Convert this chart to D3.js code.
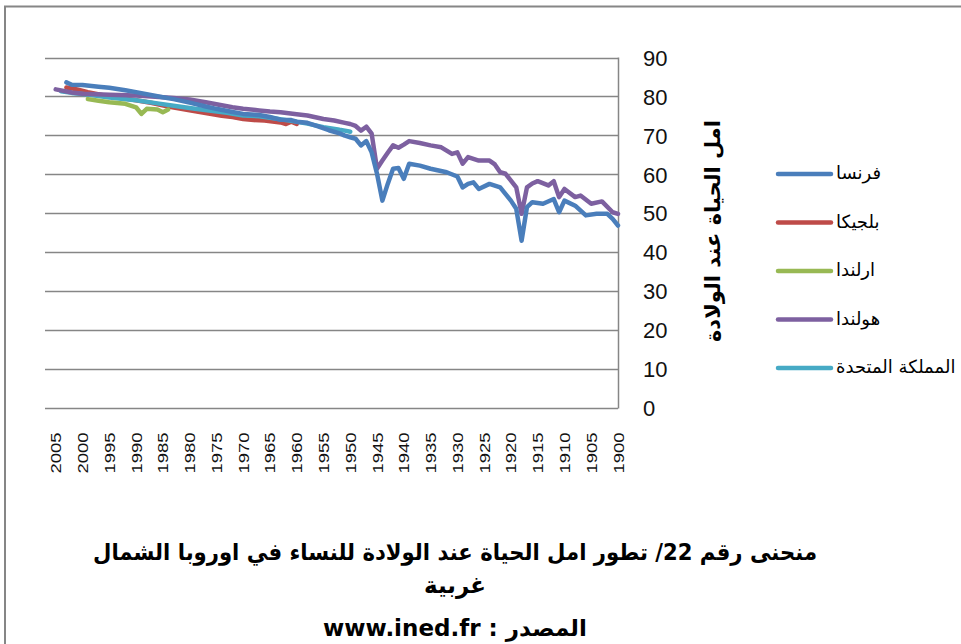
<!DOCTYPE html>
<html>
<head>
<meta charset="utf-8">
<script src="https://cdn.jsdelivr.net/npm/d3@7"></script>
<style>
  body { margin: 0; background: #fff; }
  .tick-y text { font-family: "Liberation Sans", Arial, sans-serif; font-size: 22px; fill: #111; }
  .tick-x text { font-family: "Liberation Sans", Arial, sans-serif; font-size: 14px; fill: #111; }
  .ar { font-family: "DejaVu Sans", sans-serif; direction: rtl; fill: #000; }
</style>
</head>
<body>
<div id="chart"></div>
<script>

//////////////////////////////////////////////////////////////
//////////////////////// The data ////////////////////////////
//////////////////////////////////////////////////////////////

//Country names, in legend order
var countries = ["فرنسا", "بلجيكا", "ارلندا", "هولندا", "المملكة المتحدة"];
var colors = ["#4A7EBB", "#BE4B48", "#98B954", "#7D60A0", "#46AAC5"];

//[year, female life expectancy at birth]
var france = [
	[2003, 83.6], [2002, 83.0], [2000, 82.9], [1997, 82.5], [1995, 82.2], [1992, 81.6],
	[1990, 81.1], [1987, 80.3], [1985, 79.8], [1983, 79.3], [1980, 78.4], [1977, 77.4],
	[1975, 76.8], [1972, 76.0], [1970, 75.5], [1967, 75.2], [1965, 74.7], [1963, 74.0],
	[1961, 73.9], [1960, 73.5], [1958, 73.2], [1956, 72.3], [1954, 71.3], [1952, 70.5],
	[1951, 69.9], [1950, 69.5], [1949, 69.1], [1948, 67.4], [1947, 68.5], [1946, 65.6],
	[1945, 60.1], [1944, 53.2], [1943, 57.5], [1942, 61.4], [1941, 61.6], [1940, 58.8],
	[1939, 62.7], [1937, 62.2], [1935, 61.4], [1932, 60.5], [1930, 59.4], [1929, 56.6],
	[1928, 57.5], [1927, 57.9], [1926, 56.2], [1924, 57.5], [1922, 56.6], [1920, 53.2],
	[1919, 51.1], [1918, 42.9], [1917, 51.5], [1916, 52.8], [1914, 52.4], [1912, 53.6],
	[1911, 50.2], [1910, 53.2], [1908, 51.9], [1906, 49.4], [1904, 49.8], [1902, 49.8],
	[1901, 48.5], [1900, 46.8]
];
var belgium = [
	[2003, 82.3], [2001, 81.8], [1999, 81.1], [1995, 80.0], [1990, 79.0], [1987, 78.3],
	[1984, 77.4], [1980, 76.4], [1977, 75.7], [1974, 75.0], [1972, 74.7], [1970, 74.2],
	[1968, 73.9], [1966, 73.8], [1963, 73.3], [1962, 72.9], [1961, 73.5], [1960, 72.9]
];
var ireland = [
	[1999, 79.3], [1997, 78.9], [1995, 78.5], [1992, 78.1], [1990, 77.2], [1989, 75.5],
	[1988, 76.8], [1986, 76.6], [1985, 75.9], [1984, 76.6]
];
var netherlands = [
	[2005, 81.8], [2002, 81.0], [2000, 80.7], [1995, 80.4], [1990, 80.2], [1985, 79.8],
	[1983, 79.6], [1980, 79.2], [1977, 78.5], [1974, 77.7], [1972, 77.2], [1970, 76.8],
	[1967, 76.4], [1965, 76.1], [1963, 75.9], [1960, 75.4], [1958, 75.1], [1955, 74.2],
	[1953, 73.8], [1951, 73.2], [1950, 72.9], [1949, 72.4], [1948, 71.2], [1947, 72.2],
	[1946, 70.4], [1945, 61.4], [1944, 63.5], [1943, 65.5], [1942, 67.4], [1941, 66.8],
	[1940, 67.6], [1939, 68.5], [1937, 68.0], [1935, 67.4], [1933, 66.9], [1931, 65.2],
	[1930, 65.6], [1929, 62.7], [1928, 64.4], [1926, 63.5], [1924, 63.5], [1923, 62.5],
	[1922, 60.5], [1921, 60.1], [1919, 56.6], [1918, 49.8], [1917, 56.6], [1916, 57.6],
	[1915, 58.2], [1913, 57.1], [1912, 58.2], [1911, 54.1], [1910, 56.2], [1908, 54.1],
	[1907, 54.5], [1905, 52.4], [1903, 53.0], [1901, 50.2], [1900, 49.8]
];
var uk = [
	[2004, 81.3], [2002, 80.9], [1999, 80.5], [1995, 79.7], [1990, 79.0], [1986, 78.2],
	[1983, 77.6], [1979, 76.8], [1976, 76.3], [1973, 75.8], [1970, 75.1], [1967, 74.9],
	[1964, 74.3], [1961, 73.7], [1958, 73.0], [1955, 72.1], [1952, 71.4], [1951, 71.2],
	[1950, 70.9]
];

//Tick labels
var yearTicks = d3.range(2005, 1899, -5);
var valueTicks = d3.range(0, 91, 10);

var titleLines = [
	"منحنى رقم 22/ تطور امل الحياة عند الولادة للنساء في اوروبا الشمال",
	"غربية",
	"المصدر : www.ined.fr"
];
var yTitle = "امل الحياة عند الولادة";

//////////////////////////////////////////////////////////////
/////////////////////// Set up the SVG ///////////////////////
//////////////////////////////////////////////////////////////

var width = 961,
	height = 644;

var plot = { left: 45, right: 618, top: 57.5, bottom: 407.5 };
var gridColor = "#868686";

var svg = d3.select("#chart")
	.append("svg")
	.attr("width", width)
	.attr("height", height);

//Outer chart border (runs off the right and bottom)
svg.append("rect")
	.attr("x", 5)
	.attr("y", 6.5)
	.attr("width", 1000)
	.attr("height", 700)
	.style("fill", "none")
	.style("stroke", gridColor)
	.style("stroke-width", 2);

//Years run right to left
var x = d3.scaleLinear()
	.domain([2007, 1900])
	.range([plot.left, plot.right]);

var y = d3.scaleLinear()
	.domain([0, 90])
	.range([plot.bottom, plot.top]);

//////////////////////////////////////////////////////////////
///////////////////////// Gridlines //////////////////////////
//////////////////////////////////////////////////////////////

svg.append("g").attr("class", "grid")
	.selectAll("line")
	.data(valueTicks)
	.enter().append("line")
	.attr("x1", plot.left)
	.attr("x2", plot.right)
	.attr("y1", function(d) { return Math.round(y(d)) + 0.5; })
	.attr("y2", function(d) { return Math.round(y(d)) + 0.5; })
	.style("stroke", gridColor)
	.style("stroke-width", 1.5);

//Value axis line on the right
svg.append("line")
	.attr("x1", plot.right + 0.5)
	.attr("x2", plot.right + 0.5)
	.attr("y1", y(90))
	.attr("y2", y(0) + 1)
	.style("stroke", gridColor)
	.style("stroke-width", 1.5);

//////////////////////////////////////////////////////////////
/////////////////////////// Axes /////////////////////////////
//////////////////////////////////////////////////////////////

var yAxis = svg.append("g")
	.attr("class", "tick-y")
	.attr("transform", "translate(" + plot.right + ",0)")
	.call(d3.axisRight(y).tickValues(valueTicks).tickSize(0).tickPadding(25));
yAxis.select(".domain").remove();
yAxis.selectAll("text").attr("dy", "0.36em");

var xAxis = svg.append("g")
	.attr("class", "tick-x")
	.attr("transform", "translate(0," + plot.bottom + ")")
	.call(d3.axisBottom(x).tickValues(yearTicks).tickSize(0).tickFormat(d3.format("d")));
xAxis.select(".domain").remove();
xAxis.selectAll("text")
	.attr("transform", "rotate(-90)")
	.attr("x", -25)
	.attr("y", 0)
	.attr("dy", "0.36em")
	.style("text-anchor", "end")
	.attr("textLength", 41)
	.attr("lengthAdjust", "spacingAndGlyphs");

//Vertical axis title
svg.append("text")
	.attr("class", "ar")
	.attr("transform", "translate(713,231) rotate(-90)")
	.attr("dy", "0.35em")
	.style("text-anchor", "middle")
	.style("font-size", "21px")
	.style("font-weight", "bold")
	.text(yTitle);

//////////////////////////////////////////////////////////////
/////////////////////////// Lines ////////////////////////////
//////////////////////////////////////////////////////////////

var line = d3.line()
	.x(function(d) { return x(d[0]); })
	.y(function(d) { return y(d[1]); });

var series = [france, belgium, ireland, netherlands, uk];
//Draw order so the overlaps look like the original
var drawOrder = [1, 4, 2, 3, 0];

svg.append("g").attr("class", "lines")
	.selectAll("path")
	.data(drawOrder)
	.enter().append("path")
	.attr("d", function(i) { return line(series[i]); })
	.style("fill", "none")
	.style("stroke", function(i) { return colors[i]; })
	.style("stroke-width", 4.5)
	.style("stroke-linejoin", "round")
	.style("stroke-linecap", "round");

//////////////////////////////////////////////////////////////
/////////////////////////// Legend ///////////////////////////
//////////////////////////////////////////////////////////////

var legend = svg.append("g").attr("class", "legend")
	.selectAll("g")
	.data(countries)
	.enter().append("g")
	.attr("transform", function(d, i) { return "translate(777," + (174 + i * 48.5) + ")"; });

legend.append("line")
	.attr("x1", 1)
	.attr("x2", 54)
	.style("stroke", function(d, i) { return colors[i]; })
	.style("stroke-width", 4.5)
	.style("stroke-linecap", "round");

legend.append("text")
	.attr("class", "ar")
	.attr("x", 59)
	.attr("dy", "0.3em")
	.style("text-anchor", "end")
	.style("font-size", "18px")
	.text(function(d) { return d; });

//////////////////////////////////////////////////////////////
/////////////////////////// Title ////////////////////////////
//////////////////////////////////////////////////////////////

svg.append("g").attr("class", "title")
	.selectAll("text")
	.data(titleLines)
	.enter().append("text")
	.attr("class", "ar")
	.attr("x", 455)
	.attr("y", function(d, i) { return [560, 593, 636][i]; })
	.style("text-anchor", "middle")
	.style("font-size", "23px")
	.style("font-weight", "bold")
	.text(function(d) { return d; })
	.each(function(d, i) {
		//First line is squeezed to the width it has in the original
		if (i === 0) d3.select(this).attr("textLength", 724).attr("lengthAdjust", "spacingAndGlyphs");
	});

</script>
</body>
</html>
